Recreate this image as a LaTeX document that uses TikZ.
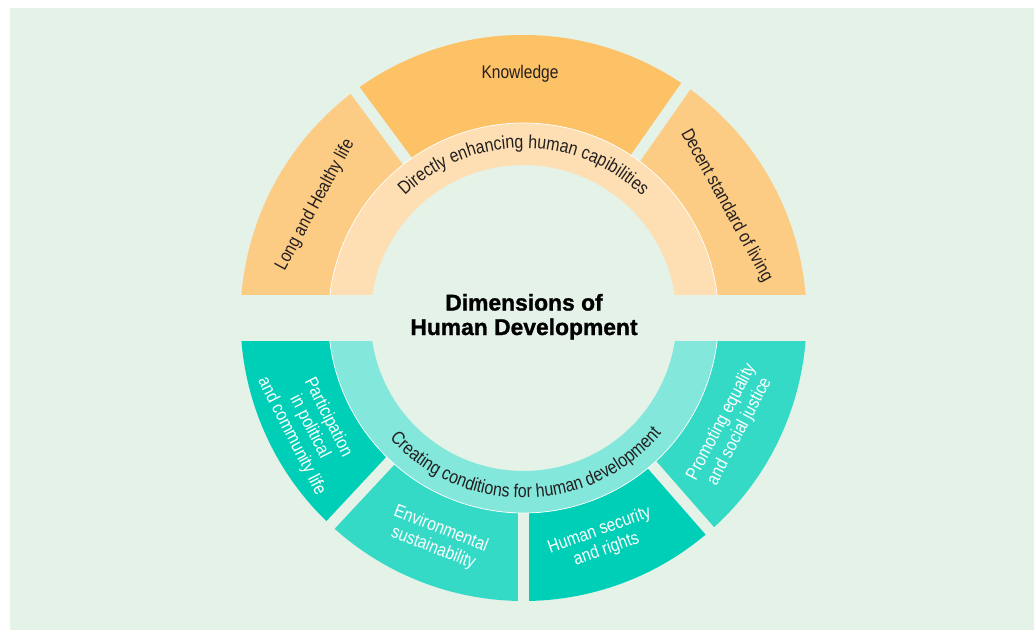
\documentclass[tikz,border=0pt]{standalone}
\usepackage{fontspec}
\setmainfont{Liberation Sans}
\newfontfamily\cond[FakeStretch=0.85]{Liberation Sans}
\newfontfamily\titlefont[BoldFeatures={FakeBold=1.2}]{Liberation Sans}
\usetikzlibrary{decorations.text}
\definecolor{bg}{HTML}{E4F2E7}
\definecolor{orA}{HTML}{FDCC84}
\definecolor{orB}{HTML}{FDC166}
\definecolor{orL}{HTML}{FEDFB3}
\definecolor{tlA}{HTML}{00CFB8}
\definecolor{tlB}{HTML}{35DAC7}
\definecolor{tlL}{HTML}{84E7DB}
\definecolor{ink}{HTML}{231F20}
\newcommand\curvefont{\cond\fontsize{16}{18}\selectfont\color{ink}}
\begin{document}
\begin{tikzpicture}[scale=0.03,
  lbl/.style={font=\cond\fontsize{15.6}{17.5}\selectfont, text=ink, align=center, inner sep=0pt},
  wlbl/.style={lbl, text=white},
  titlestyle/.style={font=\titlefont\bfseries\fontsize{19.5}{22}\selectfont, text=black, inner sep=0pt, anchor=base},
  gapline/.style={draw=bg, line width=0.33cm},
  ringedge/.style={draw=white, line width=0.6pt}
]
\useasboundingbox (-523.5,-312) rectangle (510.5,318);
\fill[white] (-523.5,-312) rectangle (510.5,318);
\fill[bg] (-513.5,-312) rectangle (510.5,310);

% upper half
\begin{scope}
  \clip (-300,24) rectangle (300,300);
  \fill[orA] (90:195) -- (90:283) arc (90:190:283) -- (190:195) arc (190:90:195) -- cycle;
  \fill[orB] (55:195) -- (55:283) arc (55:126.5:283) -- (126.5:195) arc (126.5:55:195) -- cycle;
  \fill[orA] (-10:195) -- (-10:283) arc (-10:55:283) -- (55:195) arc (55:-10:195) -- cycle;
  \draw[gapline] (126.5:190) -- (126.5:292);
  \draw[gapline] (55:190) -- (55:292);
  \fill[orL] (-10:195) arc (-10:190:195) -- (190:153) arc (190:-10:153) -- cycle;
  \draw[ringedge] (-10:195) arc (-10:190:195);
\end{scope}

% lower half
\begin{scope}
  \clip (-300,-23) rectangle (300,-300);
  \fill[tlA] (170:195) -- (170:283) arc (170:227:283) -- (227:195) arc (227:170:195) -- cycle;
  \fill[tlB] (227:195) -- (227:283) arc (227:270:283) -- (270:195) arc (270:227:195) -- cycle;
  \fill[tlA] (270:195) -- (270:283) arc (270:311.2:283) -- (311.2:195) arc (311.2:270:195) -- cycle;
  \fill[tlB] (311.2:195) -- (311.2:283) arc (311.2:370:283) -- (370:195) arc (370:311.2:195) -- cycle;
  \draw[gapline] (227:190) -- (227:292);
  \draw[gapline] (270:190) -- (270:292);
  \draw[gapline] (311.2:190) -- (311.2:292);
  \fill[tlL] (170:195) arc (170:370:195) -- (370:153) arc (370:170:153) -- cycle;
  \draw[ringedge] (170:195) arc (170:370:195);
\end{scope}

% curved ring texts
\path[decorate, decoration={text along path, text align=center,
  text={|\curvefont|Directly enhancing human capibilities}}]
  (180:170) arc (180:0:170);
\path[decorate, decoration={text along path, text align=center,
  text={|\curvefont|Creating conditions for human development}}]
  (181:180) arc (181:361:180);

% outer labels
\node[lbl, rotate=61.5] (long) at (151.5:237) {Long and Healthy life};
\node[lbl] (know) at (-3.5,244) {Knowledge};
\node[lbl, rotate=-61] (decent) at (29:232) {Decent standard of living};
\node[wlbl, rotate=-63] (part) at (207:240) {Participation\\in political\\and community life};
\node[wlbl, rotate=-21.4] (env) at (248.6:237) {Environmental\\sustainability};
\node[wlbl, rotate=19.7] (hsec) at (289.7:236) {Human security\\and rights};
\node[wlbl, rotate=62.3] (prom) at (332.3:234) {Promoting equality\\and social justice};

% title
\node[titlestyle] (t1) at (0.5,7.5) {Dimensions of};
\node[titlestyle] (t2) at (0.5,-17) {Human Development};
\end{tikzpicture}
\end{document}
